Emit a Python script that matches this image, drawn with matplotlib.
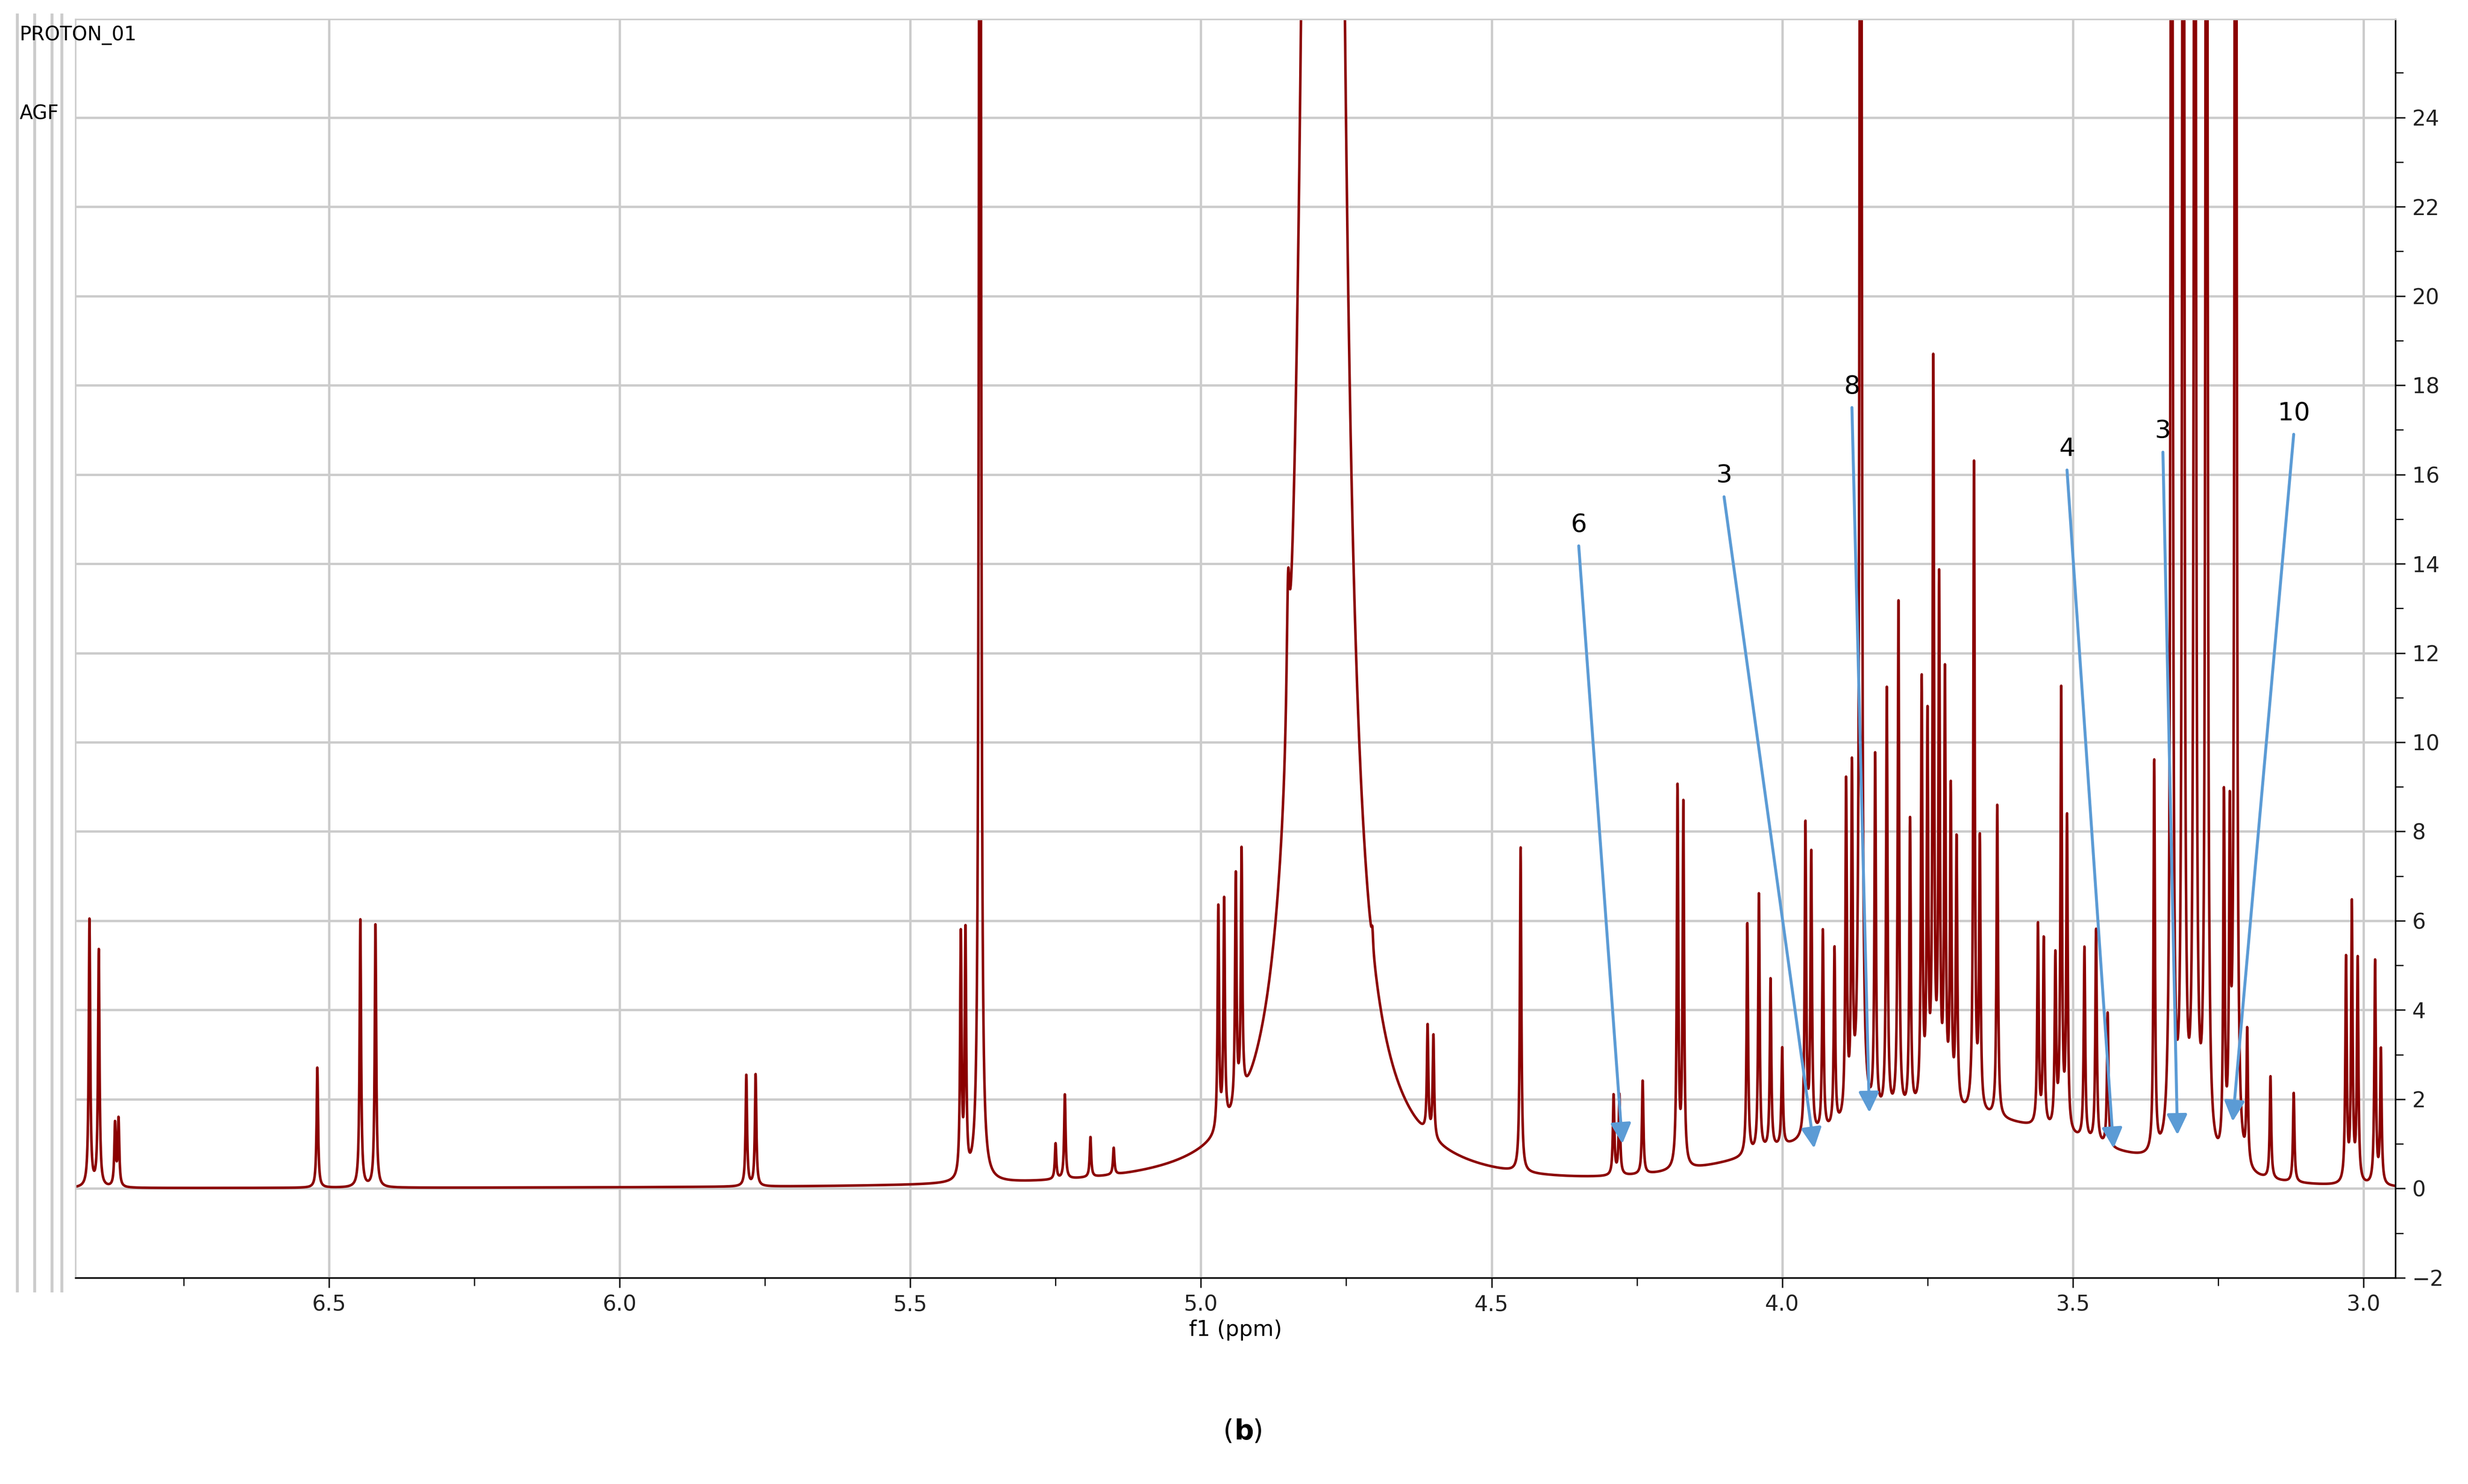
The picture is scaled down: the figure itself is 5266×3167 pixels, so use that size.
import numpy as np
import matplotlib.pyplot as plt
from matplotlib.lines import Line2D

# peak list: position (ppm), height, half-width (ppm)
peak_ppm = [6.912, 6.896, 6.868, 6.862, 6.52, 6.446, 6.42, 5.782, 5.766,
            5.413, 5.405, 5.38, 5.25, 5.234, 5.19, 5.15,
            4.97, 4.96, 4.94, 4.93, 4.85, 4.79, 4.705, 4.61, 4.60, 4.45,
            4.29, 4.28, 4.24, 4.18, 4.17,
            4.06, 4.04, 4.02, 4.00, 3.96, 3.95, 3.93, 3.91, 3.89, 3.88, 3.865,
            3.84, 3.82, 3.80, 3.78, 3.76, 3.75, 3.74, 3.73, 3.72, 3.71, 3.70,
            3.67, 3.66, 3.63, 3.56, 3.55, 3.53, 3.52, 3.51, 3.48, 3.46, 3.44,
            3.36, 3.33, 3.31, 3.29, 3.27, 3.24, 3.23, 3.22, 3.20, 3.16, 3.12,
            3.03, 3.02, 3.01, 2.98, 2.97]
peak_height = [6.0, 5.3, 1.4, 1.5, 2.7, 6.0, 5.9, 2.5, 2.5,
               5.4, 5.4, 60, 0.8, 1.9, 0.9, 0.6,
               5.0, 5.0, 5.2, 5.5, 3.0, 400, 0.4, 2.4, 2.3, 7.3,
               1.8, 1.8, 2.1, 8.5, 8.1,
               5.2, 5.8, 3.8, 2.2, 7.0, 6.3, 4.5, 4.0, 7.5, 7.5, 60,
               8.0, 9.5, 11.5, 6.5, 9.5, 8.5, 16.5, 11.5, 9.5, 7.0, 6.0,
               14.5, 6.0, 7.0, 4.5, 4.2, 3.8, 9.8, 7.0, 4.3, 4.8, 3.0,
               8.8, 60, 60, 60, 60, 8.0, 7.0, 60, 3.0, 2.3, 2.0,
               5.0, 6.2, 5.0, 5.0, 3.0]
peak_width = [0.0015] * len(peak_ppm)
peak_width[peak_ppm.index(4.79)] = 0.01
peak_width[peak_ppm.index(4.85)] = 0.003

# broad envelope under the sugar region
hump_ppm, hump_height, hump_width = 3.72, 1.6, 0.35

# annotations: label, text position, arrow tip
ann_labels = ['6', '3', '8', '4', '3', '10']
ann_text = [(4.35, 14.4), (4.10, 15.5), (3.88, 17.5), (3.51, 16.1), (3.345, 16.5), (3.12, 16.9)]
ann_tip = [(4.275, 1.0), (3.945, 0.9), (3.85, 1.7), (3.43, 0.9), (3.32, 1.2), (3.225, 1.5)]

ppm = np.linspace(6.95, 2.93, 16000)
spec = np.zeros_like(ppm)
for c, h, w in zip(peak_ppm, peak_height, peak_width):
    spec += h * w**2 / ((ppm - c)**2 + w**2)
spec += hump_height * np.exp(-((ppm - hump_ppm) / hump_width)**2)

W, H = 5266, 3167
fig = plt.figure(figsize=(W / 300, H / 300), dpi=300)
ax = fig.add_axes([0.0306, 0.139, 0.940, 0.848])

ax.plot(ppm, spec, color='#8B0000', lw=1.3)
ax.set_xlim(6.936, 2.945)
ax.set_ylim(-2.0, 26.2)

ax.set_xticks([6.5, 6.0, 5.5, 5.0, 4.5, 4.0, 3.5, 3.0])
ax.set_xticks(np.arange(3.25, 6.9, 0.5), minor=True)
ax.set_yticks(range(-2, 26, 2))
ax.set_yticks(range(-1, 26, 2), minor=True)
ax.yaxis.tick_right()
ax.grid(True, color='#cccccc', lw=1.2)
ax.tick_params(labelsize=11, colors='#222222', length=5)
ax.tick_params(which='minor', length=4)
for s in ['top', 'left']:
    ax.spines[s].set_color('#cccccc')
ax.set_xlabel('f1 (ppm)', fontsize=11, labelpad=2)

for lab, (tx, ty), (px, py) in zip(ann_labels, ann_text, ann_tip):
    ax.annotate('', xy=(px, py), xytext=(tx, ty),
                arrowprops=dict(arrowstyle='-|>', color='#5b9bd5', lw=1.5,
                                mutation_scale=22, shrinkA=0, shrinkB=0))
    ax.text(tx, ty + 0.2, lab, fontsize=13, ha='center', va='bottom')

fig.text(0.008, 0.983, 'PROTON_01', fontsize=10, va='top')
fig.text(0.008, 0.930, 'AGF', fontsize=10, va='top')
for x in [0.007, 0.014, 0.021, 0.025]:
    fig.add_artist(Line2D([x, x], [0.13, 0.99], color='#cccccc', lw=1.5))

fig.text(0.5, 0.03, '(', fontsize=14, ha='right')
fig.text(0.5, 0.03, 'b', fontsize=14, ha='left', fontweight='bold')
fig.text(0.5075, 0.03, ')', fontsize=14, ha='left')

fig.savefig('out.png', dpi=300)
